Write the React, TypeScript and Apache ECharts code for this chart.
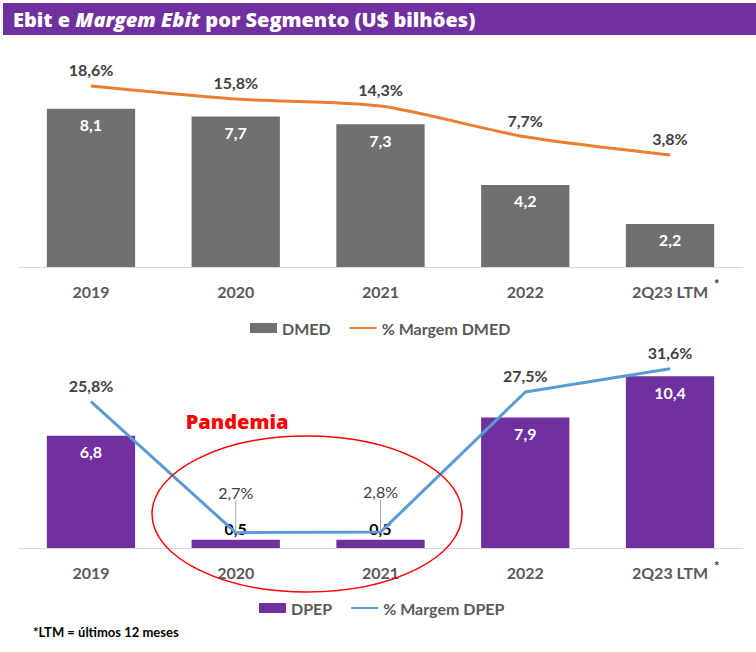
import React, { useEffect, useRef } from 'react';
import * as echarts from 'echarts';

const categories = ['2019', '2020', '2021', '2022', '2Q23 LTM'];
const dmedEbit = [8.1, 7.7, 7.3, 4.2, 2.2];
const dmedMargin = [18.6, 15.8, 14.3, 7.7, 3.8];
const dpepEbit = [6.8, 0.5, 0.5, 7.9, 10.4];
const dpepMargin = [25.8, 2.7, 2.8, 27.5, 31.6];
const smallBarIdx = [1, 2];

const FONT = 'Lato, "Open Sans", sans-serif';
const TITLE_FONT = '"Open Sans", Inter, sans-serif';
const fmt = (v: number) => v.toFixed(1).replace('.', ',');

export default function App() {
  const ref = useRef<HTMLDivElement>(null);
  useEffect(() => {
    if (!ref.current) return;
    const chart = echarts.init(ref.current, null, { renderer: 'svg' });
    const axisLabel = { color: '#595959', fontWeight: 'bold', fontSize: 16, fontFamily: FONT, margin: 16 };
    const xBase = {
      type: 'category',
      data: categories,
      axisLine: { lineStyle: { color: '#d9d9d9', width: 1 } },
      axisTick: { show: false },
      axisLabel,
    };
    const legendText = { color: '#595959', fontWeight: 'bold', fontSize: 16, fontFamily: FONT };
    chart.setOption({
      animation: false,
      grid: [
        { left: 18.6, right: 13.6, top: 50, height: 217 },
        { left: 18.6, right: 13.6, top: 345, height: 203 },
      ],
      xAxis: [
        { ...xBase, gridIndex: 0 },
        { ...xBase, gridIndex: 1 },
      ],
      yAxis: [
        { type: 'value', gridIndex: 0, min: 0, max: 11.1, show: false },
        { type: 'value', gridIndex: 0, min: -20.24, max: 26.33, show: false },
        { type: 'value', gridIndex: 1, min: 0, max: 12.3, show: false },
        { type: 'value', gridIndex: 1, min: 0, max: 35.8, show: false },
      ],
      legend: [
        {
          left: 245, top: 315, itemWidth: 27, itemHeight: 10, itemGap: 18,
          textStyle: legendText,
          data: [{ name: 'DMED', icon: 'rect' }, { name: '% Margem DMED', itemStyle: { opacity: 0 } }],
        },
        {
          left: 254, top: 595, itemWidth: 27, itemHeight: 10, itemGap: 18,
          textStyle: legendText,
          data: [{ name: 'DPEP', icon: 'rect' }, { name: '% Margem DPEP', itemStyle: { opacity: 0 } }],
        },
      ],
      series: [
        {
          name: 'DMED', type: 'bar', xAxisIndex: 0, yAxisIndex: 0, barWidth: '61%',
          data: dmedEbit, itemStyle: { color: '#72706f' },
          label: {
            show: true, position: 'insideTop', distance: 8, color: '#fff',
            fontWeight: 'bold', fontSize: 16, fontFamily: FONT,
            formatter: (p: any) => fmt(p.value),
          },
        },
        {
          name: '% Margem DMED', type: 'line', xAxisIndex: 0, yAxisIndex: 1, smooth: 0.25,
          data: dmedMargin, symbol: 'circle', symbolSize: 1,
          color: '#ED7D31', lineStyle: { color: '#ED7D31', width: 3 },
          label: {
            show: true, position: 'top', distance: 8, color: '#404040',
            fontWeight: 'bold', fontSize: 16, fontFamily: FONT,
            formatter: (p: any) => fmt(p.value) + '%',
          },
        },
        {
          name: 'DPEP', type: 'bar', xAxisIndex: 1, yAxisIndex: 2, barWidth: '61%',
          itemStyle: { color: '#7030A0' },
          data: dpepEbit.map((v, i) =>
            smallBarIdx.includes(i)
              ? { value: v, label: { position: 'top', distance: 3, color: '#000' } }
              : v
          ),
          label: {
            show: true, position: 'insideTop', distance: 8, color: '#fff',
            fontWeight: 'bold', fontSize: 16, fontFamily: FONT,
            formatter: (p: any) => fmt(p.value),
          },
        },
        {
          name: '% Margem DPEP', type: 'line', xAxisIndex: 1, yAxisIndex: 3,
          symbol: 'circle', symbolSize: 1,
          color: '#5B9BD5', lineStyle: { color: '#5B9BD5', width: 3 },
          data: dpepMargin.map((v, i) =>
            smallBarIdx.includes(i)
              ? {
                  value: v,
                  label: { color: '#404040', fontWeight: 'normal' },
                  labelLine: { show: true, lineStyle: { color: '#a6a6a6', width: 1 } },
                }
              : v
          ),
          labelLayout: (p: any) => (smallBarIdx.includes(p.dataIndex) ? { dy: -24 } : {}),
          label: {
            show: true, position: 'top', distance: 8, color: '#404040',
            fontWeight: 'bold', fontSize: 16, fontFamily: FONT,
            formatter: (p: any) => fmt(p.value) + '%',
          },
        },
      ],
      graphic: [
        { type: 'rect', shape: { x: 3, y: 3, width: 753, height: 32 }, style: { fill: '#7030A0' }, z: 10 },
        {
          type: 'text', x: 13, y: 19, z: 11,
          style: {
            text: '{a|Ebit e }{b|Margem Ebit}{a| por Segmento (U$ bilhões)}',
            verticalAlign: 'middle',
            rich: {
              a: { fill: '#fff', fontSize: 20, fontWeight: 800, fontFamily: TITLE_FONT },
              b: { fill: '#fff', fontSize: 20, fontWeight: 800, fontStyle: 'italic', fontFamily: TITLE_FONT },
            },
          },
        },
        { type: 'text', x: 714, y: 277, z: 11, style: { text: '*', fill: '#404040', fontSize: 13, fontWeight: 'bold', fontFamily: FONT } },
        { type: 'text', x: 714, y: 559, z: 11, style: { text: '*', fill: '#404040', fontSize: 13, fontWeight: 'bold', fontFamily: FONT } },
        {
          type: 'text', x: 237, y: 421, z: 11,
          style: { text: 'Pandemia', fill: '#ff0000', fontSize: 20, fontWeight: 800, fontFamily: TITLE_FONT, align: 'center', verticalAlign: 'middle' },
        },
        {
          type: 'ellipse', z: 12, shape: { cx: 307, cy: 514, rx: 155, ry: 78 },
          style: { fill: 'none', stroke: '#ff0000', lineWidth: 1.5 },
        },
        {
          type: 'text', x: 33, y: 632, z: 11,
          style: { text: '*LTM = últimos 12 meses', fill: '#000', fontSize: 13, fontWeight: 'bold', fontFamily: FONT, verticalAlign: 'middle' },
        },
      ],
    });
    return () => chart.dispose();
  }, []);
  return <div ref={ref} style={{ position: 'absolute', left: 0, top: 0, width: 756, height: 652, background: '#fff' }} />;
}
